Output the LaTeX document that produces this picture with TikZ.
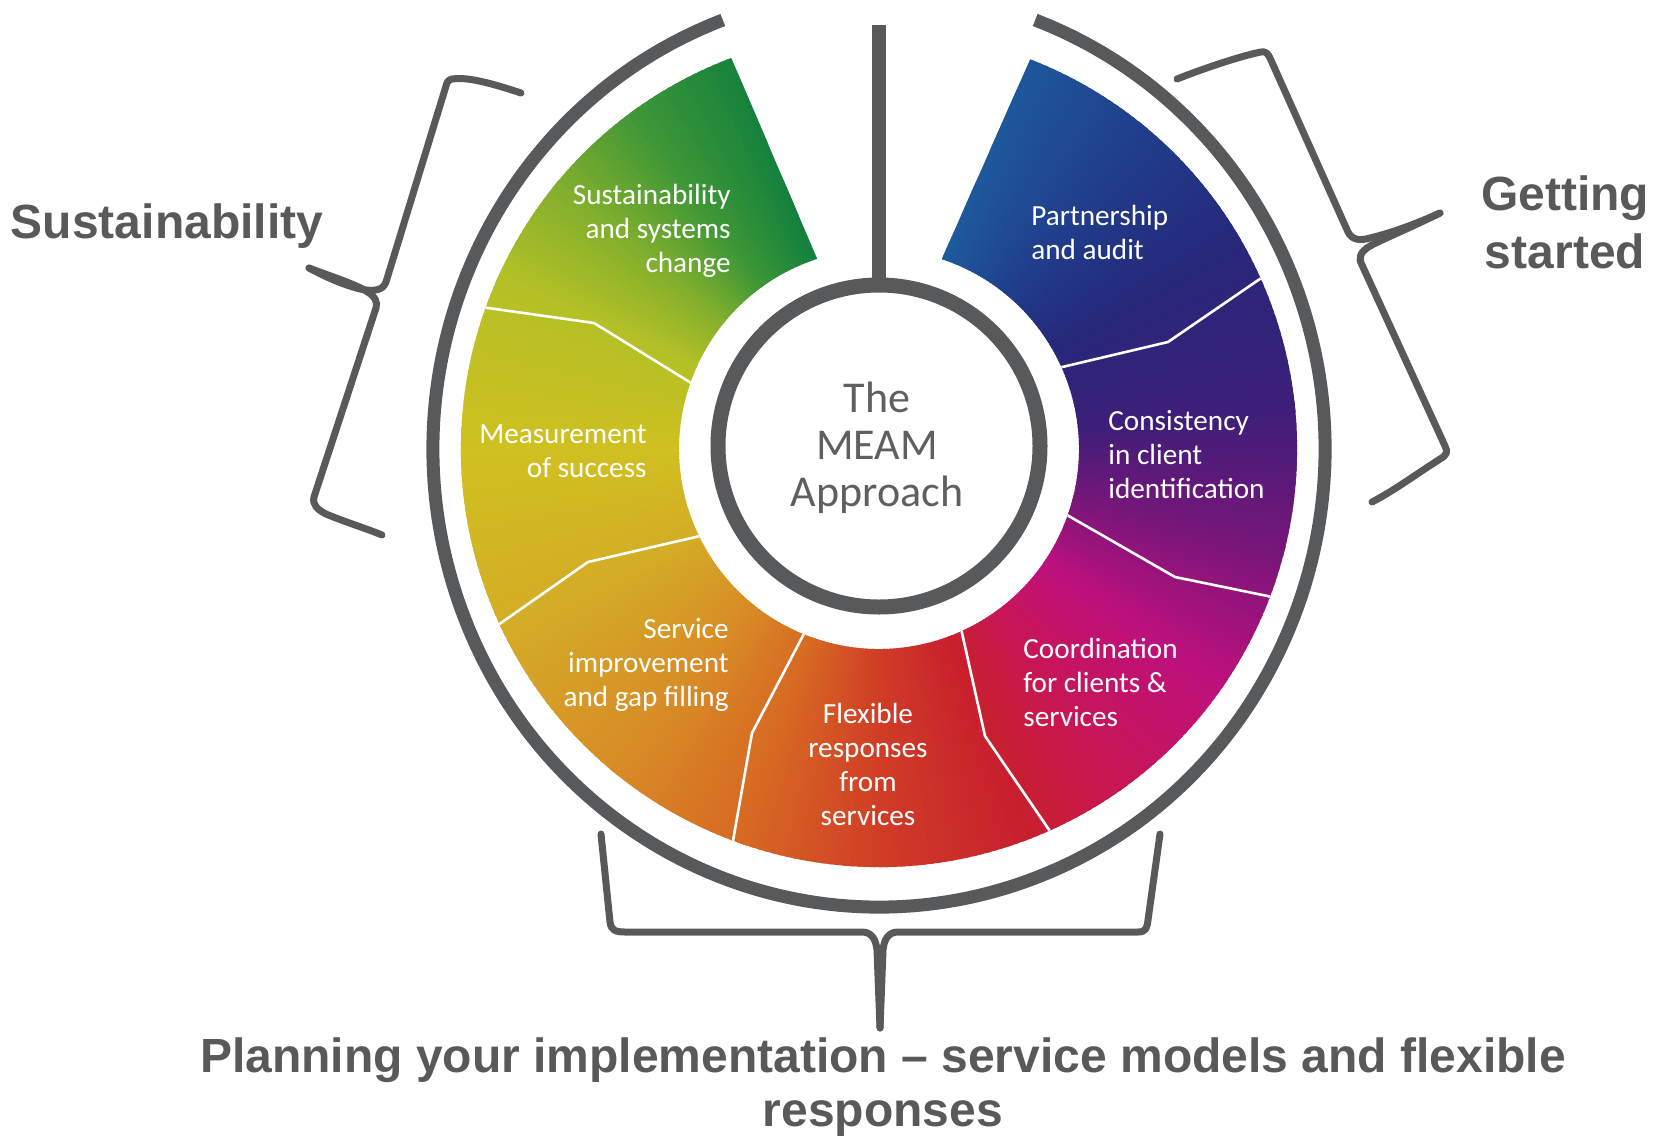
\documentclass[tikz,border=0pt]{standalone}
\usepackage{fontspec}
\setmainfont{Liberation Sans}
\newfontfamily\segfont{Carlito}
\definecolor{gry}{RGB}{88,89,91}
\definecolor{lbl}{RGB}{89,89,89}
\definecolor{ctr}{RGB}{95,95,95}
\definecolor{s0}{RGB}{18,128,62}
\definecolor{s1}{RGB}{60,150,55}
\definecolor{s2}{RGB}{130,175,45}
\definecolor{s3}{RGB}{180,192,38}
\definecolor{s4}{RGB}{208,192,32}
\definecolor{s5}{RGB}{212,172,38}
\definecolor{s6}{RGB}{216,140,38}
\definecolor{s7}{RGB}{215,105,35}
\definecolor{s8}{RGB}{208,60,38}
\definecolor{s9}{RGB}{200,32,45}
\definecolor{s10}{RGB}{200,22,85}
\definecolor{s11}{RGB}{190,16,125}
\definecolor{s12}{RGB}{120,22,122}
\definecolor{s13}{RGB}{62,30,120}
\definecolor{s14}{RGB}{38,40,122}
\definecolor{s15}{RGB}{32,62,140}
\definecolor{s16}{RGB}{30,92,158}
\begin{document}
\begin{tikzpicture}[x=0.5pt,y=-0.5pt,
  bracestroke/.style={draw=gry, line width=3.5pt, line join=round, line cap=round},
  seglbl/.style={text=white, font=\segfont\fontsize{14.6}{17}\selectfont, inner sep=0pt},
  outlbl/.style={text=lbl, font=\bfseries\fontsize{24}{29}\selectfont, inner sep=0pt},
  segline/.style={draw=white, line width=1.3pt, line join=round},
  greystroke/.style={draw=gry}]
\useasboundingbox (0,0) rectangle (1660,1136);

% colored wheel
\begin{scope}[shift={(879,449)}]
  \begin{scope}
    \clip (-110.7:418) arc[start angle=-110.7, end angle=-428.8, radius=418]
      -- (-71.7:200) arc[start angle=-71.7, end angle=252, radius=200] -- cycle;
    \foreach \a/\b/\ca/\cb in {108/125/s0/s1,125/140/s1/s2,140/155/s2/s3,155/180/s3/s4,
        180/205/s4/s5,205/230/s5/s6,230/250/s6/s7,250/270/s7/s8,270/290/s8/s9,
        290/305/s9/s10,305/325/s10/s11,325/345/s11/s12,345/365/s12/s13,
        365/390/s13/s14,390/410/s14/s15,410/432/s15/s16}{
      \foreach \x in {\a,...,\b}{
        \pgfmathtruncatemacro{\p}{100*(\x-\a)/(\b-\a)}
        \colorlet{wc}{\cb!\p!\ca}
        \fill[wc] (0,0) -- (-\x:440) arc[start angle=-\x, end angle=-\x-1.6, radius=440] -- cycle;
      }
    }
    \begin{scope}[shift={(-879,-449)}]
      \draw[segline] (1058,368) -- (1168,342) -- (1270,272);
      \draw[segline] (1060,511) -- (1175,577) -- (1282,599);
      \draw[segline] (960,624) -- (985,736) -- (1056,840);
      \draw[segline] (808,626) -- (752,733) -- (731,852);
      \draw[segline] (700,536) -- (588,562) -- (488,632);
      \draw[segline] (696,386) -- (594,323) -- (474,306);
    \end{scope}
  \end{scope}
  % outer grey arc
  \draw[greystroke, line width=6.5pt] (-110.5:446 and 458) arc[start angle=-110.5, end angle=-429.5, x radius=446, y radius=458];
\end{scope}

% inner ring and bar
\draw[greystroke, line width=7.5pt] (879,446) circle[radius=161];
\draw[greystroke, line width=7pt] (879,25) -- (879,288);

% segment labels
\node[seglbl, align=right, anchor=east] (sus) at (731,230.5) {Sustainability\\and systems\\change};
\node[seglbl, align=left, anchor=west] (par) at (1031,232) {Partnership\\and audit};
\node[seglbl, align=right, anchor=east] (mea) at (647,451.5) {Measurement\\of success};
\node[seglbl, align=left, anchor=west] (con) at (1108,455) {Consistency\\in client\\identification};
\node[seglbl, align=right, anchor=east] (ser) at (729,664.5) {Service\\improvement\\and gap filling};
\node[seglbl, align=center, anchor=center] (fle) at (868,764) {Flexible\\responses\\from\\services};
\node[seglbl, align=left, anchor=west] (coo) at (1023,682) {Coordination\\for clients \&\\services};
\node[text=ctr, font=\segfont\fontsize{22}{23.5}\selectfont, align=center, inner sep=0pt] (meam) at (877,448) {The\\MEAM\\Approach};

% braces
\draw[bracestroke] (521,93) .. controls (485,81) and (465,77) .. (452,79) .. controls (448,80) and (447,82) .. (446,86)
  -- (386,282) .. controls (383,290) and (375,292) .. (360,289) .. controls (340,284) and (320,274) .. (309,268);
\draw[bracestroke] (309,268) .. controls (330,276) and (355,284) .. (366,291) .. controls (375,296) and (378,302) .. (376,308)
  -- (314,497) .. controls (312,505) and (318,510) .. (326,514) .. controls (345,522) and (365,528) .. (382,535);

\draw[bracestroke] (1177,79) .. controls (1210,66) and (1245,55) .. (1261,52) .. controls (1266,51) and (1268,54) .. (1270,58)
  -- (1348,232) .. controls (1352,240) and (1360,241) .. (1370,238) .. controls (1395,232) and (1420,222) .. (1440,213);
\draw[bracestroke] (1440,213) .. controls (1410,228) and (1385,238) .. (1370,246) .. controls (1360,252) and (1358,258) .. (1362,265)
  -- (1445,446) .. controls (1448,452) and (1447,455) .. (1440,459) .. controls (1415,475) and (1395,490) .. (1372,502);

\draw[bracestroke] (601,834) -- (610,922) .. controls (611,930) and (615,932) .. (625,932) -- (862,932)
  .. controls (872,932) and (876,940) .. (877,950) -- (880,1028);
\draw[bracestroke] (880,1028) -- (883,950) .. controls (884,940) and (888,932) .. (898,932) -- (1138,932)
  .. controls (1146,932) and (1147,928) .. (1148,920) -- (1160,834);

% outer labels
\node[outlbl, anchor=base] (lsus) at (167,238) {Sustainability};
\node[outlbl, align=center] (lget) at (1565,222) {Getting\\started};
\node[outlbl, align=center, font=\bfseries\fontsize{24}{27}\selectfont] (lpla) at (883,1087) {Planning your implementation – service models and flexible\\responses};
\end{tikzpicture}
\end{document}
